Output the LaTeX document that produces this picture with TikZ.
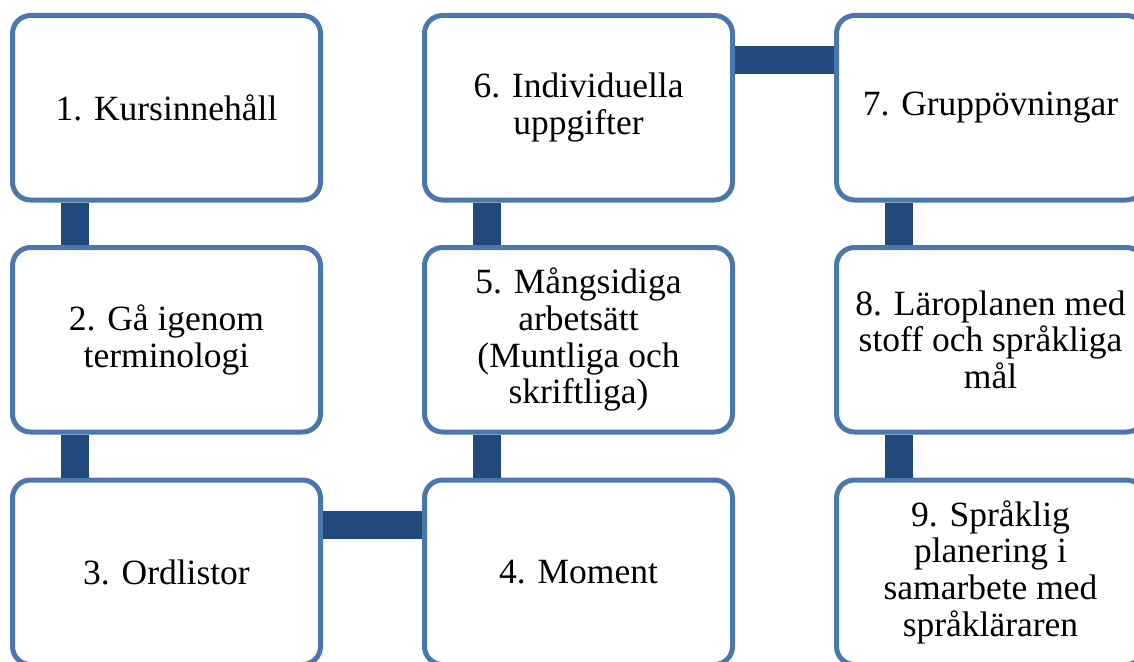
\documentclass[tikz,border=0pt]{standalone}
\usepackage{fontspec}
\setmainfont{Liberation Serif}
\definecolor{boxline}{RGB}{74,120,174}
\definecolor{linkfill}{RGB}{33,73,124}
\tikzset{
  stepbox/.style={draw=boxline, line width=5pt, fill=white, rounded corners=18pt,
    minimum width=308pt, minimum height=184.5pt, align=center, text=black,
    font=\fontsize{35.5}{36.7}\selectfont},
  link/.style={draw=linkfill, line width=28pt}
}
\begin{document}
\begin{tikzpicture}[x=1pt,y=-1pt]
\useasboundingbox (0,0) rectangle (1134,661);
\fill[white] (0,0) rectangle (1134,661);
\begin{scope}
\clip (0,0) rectangle (1134,661);
% boxes: three columns, three rows
\node[stepbox] (b1) at (166.5,107.75) {1. Kursinnehåll};
\node[stepbox] (b2) at (166.5,339.75) {2. Gå igenom\\terminologi};
\node[stepbox] (b3) at (166.5,572.25) {3. Ordlistor};
\node[stepbox] (b4) at (578.5,572.25) {4. Moment};
\node[stepbox] (b5) at (578.5,339.75) {5. Mångsidiga\\arbetsätt\\(Muntliga och\\skriftliga)};
\node[stepbox] (b6) at (578.5,107.75) {6. Individuella\\uppgifter};
\node[stepbox] (b7) at (990.5,107.75) {7. Gruppövningar};
\node[stepbox] (b8) at (990.5,339.75) {8. Läroplanen med\\stoff och språkliga\\mål};
\node[stepbox] (b9) at (990.5,572.25) {9. Språklig\\planering i\\samarbete med\\språkläraren};
% connecting bars between consecutive boxes (they end on the outer border)
\draw[link] ([xshift=65pt]b1.south west) -- ([xshift=65pt]b2.north west);
\draw[link] ([xshift=65pt]b2.south west) -- ([xshift=65pt]b3.north west);
\draw[link] ([yshift=-47pt]b3.north east) -- ([yshift=-47pt]b4.north west);
\draw[link] ([xshift=65pt]b4.north west) -- ([xshift=65pt]b5.south west);
\draw[link] ([xshift=65pt]b5.north west) -- ([xshift=65pt]b6.south west);
\draw[link] ([yshift=-47pt]b6.north east) -- ([yshift=-47pt]b7.north west);
\draw[link] ([xshift=65pt]b7.south west) -- ([xshift=65pt]b8.north west);
\draw[link] ([xshift=65pt]b8.south west) -- ([xshift=65pt]b9.north west);
\end{scope}
\end{tikzpicture}
\end{document}
